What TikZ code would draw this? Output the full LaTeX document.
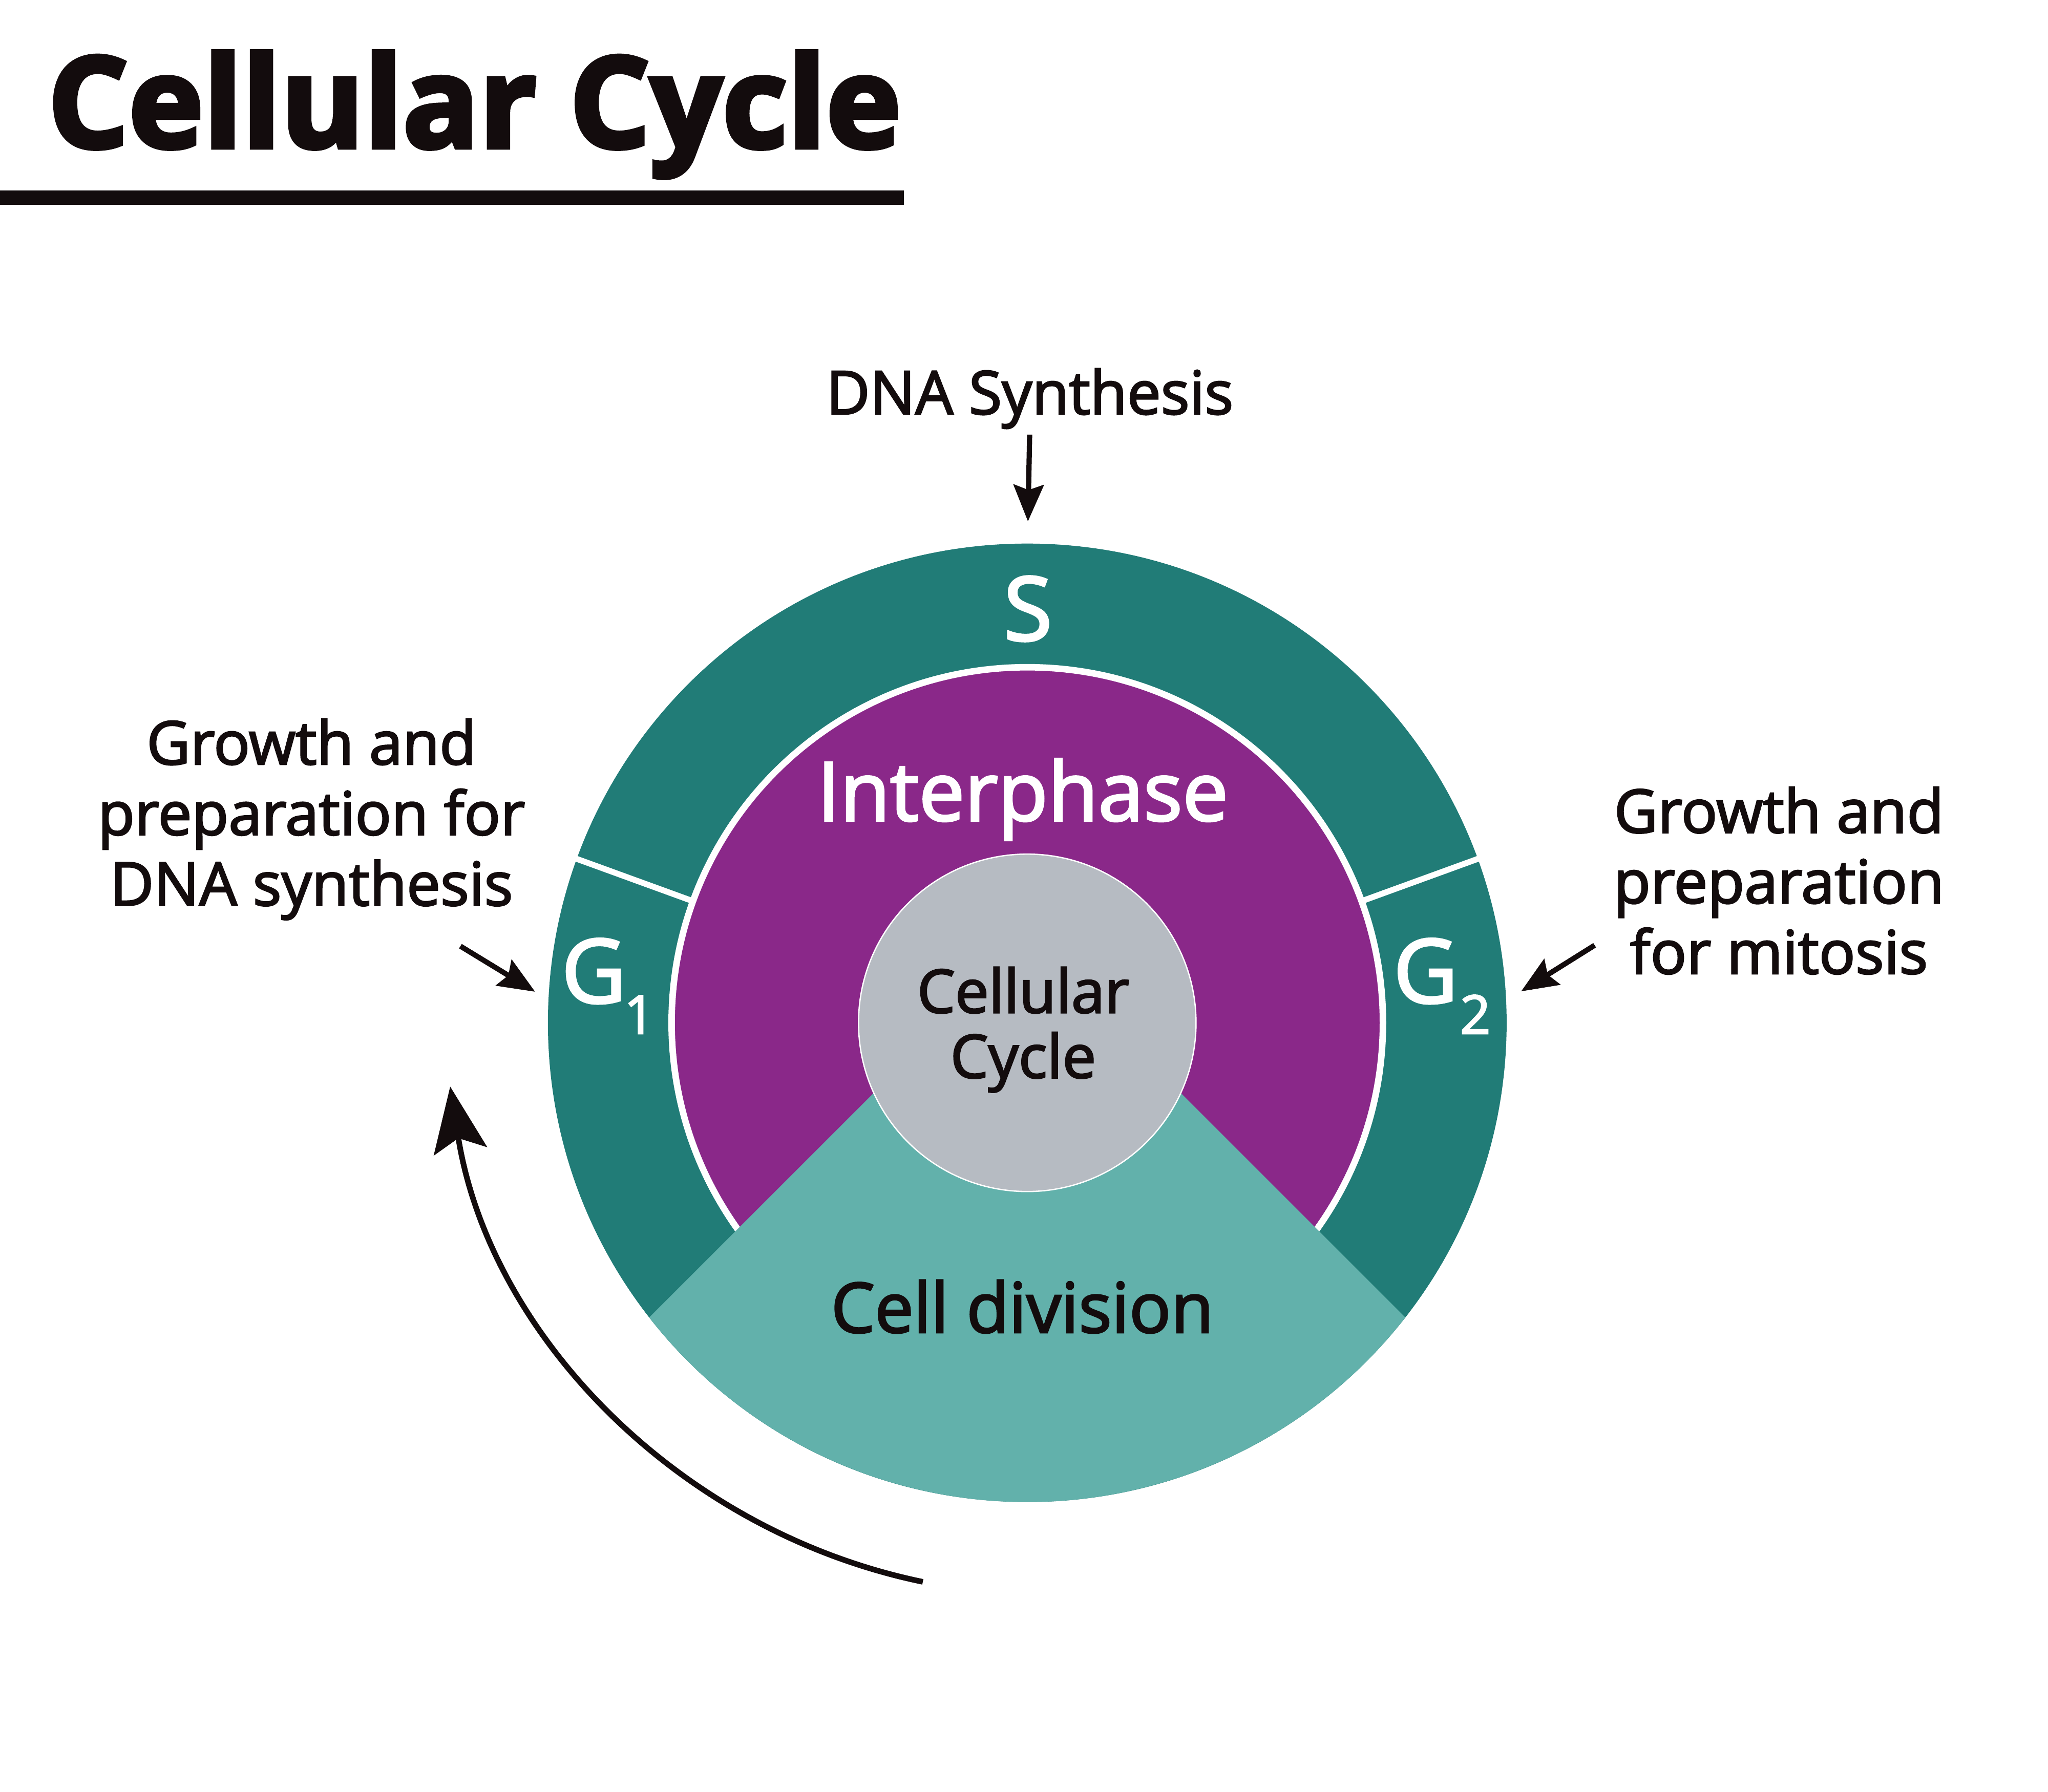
\documentclass[tikz,border=0pt]{standalone}
\usepackage{fontspec}
\setmainfont{Open Sans}
\newfontfamily\semifont{Open Sans}[FakeBold=2.5]
\newfontfamily\titlefont{Open Sans}[BoldFeatures={FakeBold=3.5}]
\usetikzlibrary{arrows.meta,calc}
\definecolor{darkteal}{HTML}{217C77}
\definecolor{purp}{HTML}{8A2889}
\definecolor{lteal}{HTML}{62B1AB}
\definecolor{coregray}{HTML}{B6BBC2}
\definecolor{ink}{HTML}{130C0D}
\begin{document}
\begin{tikzpicture}[x=1pt,y=1pt,
  lbl/.style={text=ink, inner sep=0pt, anchor=base, font=\semifont\fontsize{46}{54}\selectfont},
  wlbl/.style={text=white, inner sep=0pt, anchor=base},
  arr/.style={draw=ink, line width=4pt, -{Stealth[length=28pt,width=23pt,inset=4pt]}},
  bigarr/.style={draw=ink, line width=4.3pt, -{Stealth[length=50pt,width=41pt,inset=10pt]}},
  sepline/.style={draw=white, line width=4.5pt}]
\useasboundingbox (0,0) rectangle (1568,1372);
\fill[white] (0,0) rectangle (1568,1372);

% title
\node[text=ink, inner sep=0pt, anchor=base west, font=\titlefont\bfseries\fontsize{97}{97}\selectfont] (title) at (36.5,1259) {Cellular Cycle};
\fill[ink] (0,1215) rectangle (692,1226);

% wheel
\coordinate (C) at (786.5,588.7);
\fill[darkteal] (C) circle[radius=367];
\draw[sepline] ($(C)+(20:250)$) -- ($(C)+(20:368)$);
\draw[sepline] ($(C)+(160:250)$) -- ($(C)+(160:368)$);
\filldraw[fill=purp, draw=white, line width=5pt] (C) circle[radius=272.3];
\coordinate (apex) at (786.5,652.5);
\fill[lteal] (apex) -- ($(C)+(217.94:367)$) arc[start angle=217.94, end angle=322.06, radius=367] -- cycle;
\node[circle, fill=coregray, draw=white, line width=1pt, minimum size=258.4pt, inner sep=0pt] (core) at (C) {};

% wheel labels
\node[wlbl, font=\semifont\fontsize{68}{68}\selectfont] (S) at (787,881.5) {S};
\node[wlbl, font=\semifont\fontsize{62.5}{62.5}\selectfont] (inter) at (783,743.5) {Interphase};
\node[wlbl, font=\semifont\fontsize{68}{68}\selectfont] (g1) at (454.6,604) {G};
\node[wlbl, font=\semifont\fontsize{41}{41}\selectfont] (g1sub) at (489.5,580.3) {1};
\node[wlbl, font=\semifont\fontsize{68}{68}\selectfont] (g2) at (1091.5,604) {G};
\node[wlbl, font=\semifont\fontsize{41}{41}\selectfont] (g2sub) at (1129.5,580.3) {2};
\node[lbl, font=\semifont\fontsize{46}{49.8}\selectfont] (coretext) at (783.4,546.5) {\begin{tabular}[b]{@{}c@{}}Cellular\\Cycle\end{tabular}};
\node[lbl, font=\semifont\fontsize{53}{53}\selectfont] (division) at (782.7,351.5) {Cell division};

% outside labels
\node[lbl] (dna) at (788.4,1054.8) {DNA Synthesis};
\node[lbl] (leftlbl) at (238.5,678.6) {\begin{tabular}[b]{@{}c@{}}Growth and\\preparation for\\DNA synthesis\end{tabular}};
\node[lbl] (rightlbl) at (1362,626.3) {\begin{tabular}[b]{@{}c@{}}Growth and\\preparation\\for mitosis\end{tabular}};

% arrows
\coordinate (dnaTip) at (787,972.7);
\draw[arr, shorten <=4.4pt] (dna.south) -- (dnaTip);
\coordinate (leftFrom) at (352.5,647.4);
\coordinate (leftTip) at (409.7,612.5);
\draw[arr] (leftFrom) -- (leftTip);
\coordinate (rightFrom) at (1220.9,648.1);
\coordinate (rightTip) at (1164.6,612.8);
\draw[arr] (rightFrom) -- (rightTip);
\coordinate (cycStart) at ($(800,612)+(258.3:461)$);
\draw[bigarr] (cycStart) arc[start angle=258.3, end angle=189, radius=461];
\end{tikzpicture}
\end{document}
